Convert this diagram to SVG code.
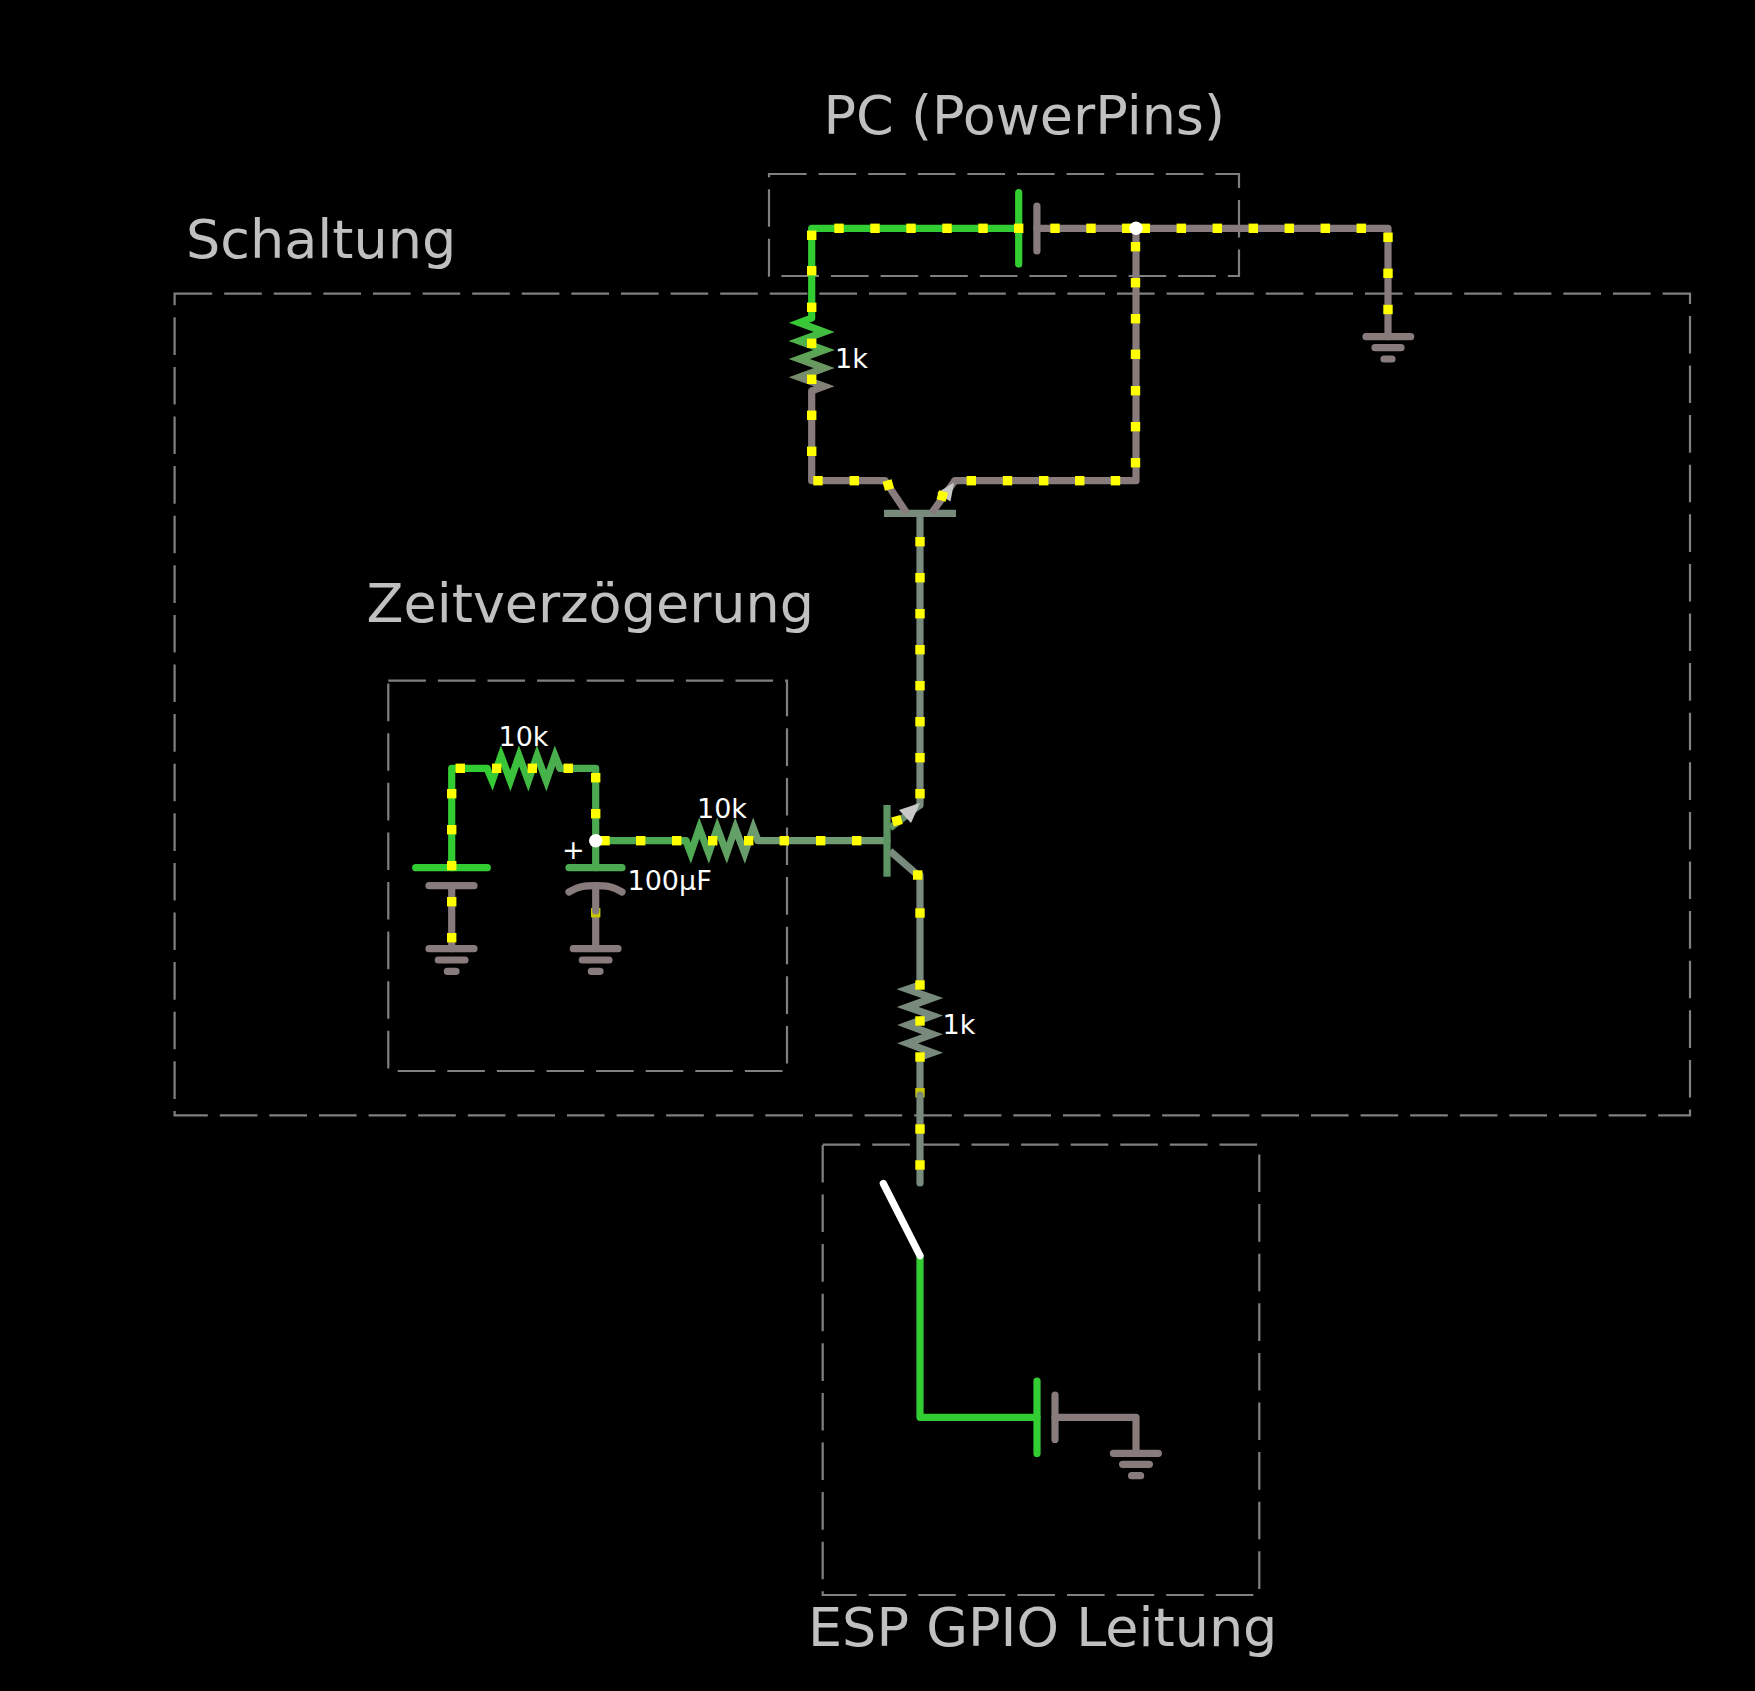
<svg xmlns="http://www.w3.org/2000/svg" width="1755" height="1691" viewBox="0 0 1755 1691">
<style>
.box{fill:none;stroke:#808080;stroke-width:2.2;stroke-dasharray:37.6 12}
.title{font-family:"DejaVu Sans",sans-serif;font-size:54px;fill:#c0c0c0}
.lbl{font-family:"DejaVu Sans",sans-serif;font-size:27px;fill:#fff}
.w{fill:none;stroke-width:7.2;stroke-linecap:round;stroke-linejoin:round}
.z{fill:none;stroke-width:7.2;stroke-linejoin:miter;stroke-miterlimit:10;stroke-linecap:butt}
.b{fill:none;stroke-width:7.2;stroke-linecap:butt}
.g{stroke:#32cd32}.n{stroke:#887b7b}.m{stroke:#4cab50}.t{stroke:#6f9a72}.v{stroke:#778a7b}
.d{fill:#ffff00;width:9.4px;height:9.4px}
.j{fill:#fff}
</style>
<defs>
<linearGradient id="r1" gradientUnits="userSpaceOnUse" x1="0" y1="318" x2="0" y2="391"><stop offset="0" stop-color="#32cd32"/><stop offset="1" stop-color="#887b7b"/></linearGradient>
<linearGradient id="r2" gradientUnits="userSpaceOnUse" x1="487" y1="0" x2="560" y2="0"><stop offset="0" stop-color="#32cd32"/><stop offset="1" stop-color="#4cab50"/></linearGradient>
<linearGradient id="r3" gradientUnits="userSpaceOnUse" x1="686" y1="0" x2="758" y2="0"><stop offset="0" stop-color="#4cab50"/><stop offset="1" stop-color="#6f9a72"/></linearGradient>
<linearGradient id="te" gradientUnits="userSpaceOnUse" x1="890" y1="828" x2="920" y2="805"><stop offset="0" stop-color="#5c9464"/><stop offset="1" stop-color="#778a7b"/></linearGradient>
</defs>
<rect id="background" x="0" y="0" width="1755" height="1691" fill="#000"/>
<g id="frames">
<rect class="box" x="174.6" y="293.7" width="1515.4" height="821.6"/>
<rect class="box" x="388.3" y="680.6" width="398.7" height="390.4"/>
<rect class="box" x="769" y="174" width="470" height="102"/>
<rect class="box" x="822.7" y="1144.7" width="436.6" height="450.3"/>
</g>
<g id="titles">
<text class="title" x="823.5" y="134">PC (PowerPins)</text>
<text class="title" x="186" y="257.6">Schaltung</text>
<text class="title" x="366.5" y="622">Zeitverzögerung</text>
<text class="title" x="808" y="1646">ESP GPIO Leitung</text>
</g>
<g id="connectors">
<path class="w g" d="M811.7 318V228.3H1018.7"/>
<path class="w n" d="M1036.9 228.3H1388V336.7"/>
<path class="w n" d="M1136 228.3V480.7H955"/>
<path class="w n" d="M811.7 391V480.7H885"/>
<path class="w v" d="M920 513.3V805"/>
<path class="w t" d="M887 840.7H758"/>
<path class="w m" d="M595.7 840.7H686"/>
<path class="w g" d="M451.7 867.7V768.3H487"/>
<path class="w m" d="M560 768.3H595.7V867.7"/>
<path class="w n" d="M451.7 885.7V948.7"/>
<path class="b n" d="M595.7 914V948.7"/>
<path class="w v" d="M917.7 875H920V985"/>
<path class="b v" d="M920 1057V1092"/>
<path class="w g" d="M920 1255.7V1417.3H1037"/>
<path class="w n" d="M1055 1417.3H1136V1453.3"/>
</g>
<g id="current-dots">
<rect class="d" x="591" y="908" style="fill:#c8c800"/>
<rect class="d" x="915.3" y="1088" style="fill:#c8c800"/>
</g>
<g id="connectors-over">
<path class="w n" d="M595.7 885.7V911"/>
<path class="w v" d="M920 1095V1183"/>
</g>
<g id="battery-pc">
<path class="w g" d="M1018.7 192.7V263.9"/>
<path class="w n" d="M1036.9 206V251"/>
</g>
<g id="battery-esp">
<path class="w g" d="M1037 1381V1453.4"/>
<path class="w n" d="M1055 1395V1439.4"/>
</g>
<g id="ground-pc">
<path class="w n" d="M1366 336.7H1410.7M1375 347.7H1401M1384 359H1392"/>
</g>
<g id="ground-left">
<path class="w n" d="M429 948.7H474M438.3 960H465M447.3 971.3H456"/>
</g>
<g id="ground-cap">
<path class="w n" d="M573.3 948.7H618M582.3 960H609M591.3 971.3H600"/>
</g>
<g id="ground-esp">
<path class="w n" d="M1113.4 1453.3H1158.4M1122.6 1464.3H1149.4M1131.6 1475.7H1140.6"/>
</g>
<g id="resistor-1k-top">
<polyline class="z" stroke="url(#r1)" points="811.7,318 799.2,322.7 824.2,332 799.2,341 824.2,350 799.2,359 824.2,368 799.2,377.3 824.2,386.3 811.7,391"/>
<text class="lbl" x="835" y="368.3">1k</text>
</g>
<g id="resistor-1k-bottom">
<polyline class="z v" points="920,985 907.5,989.3 932.5,998 907.5,1007 932.5,1015.7 907.5,1025 932.5,1034.3 907.5,1043.3 932.5,1052.7 920,1057"/>
<text class="lbl" x="942.5" y="1034.3">1k</text>
</g>
<g id="resistor-10k-left">
<polyline class="z" stroke="url(#r2)" points="487,768.3 492.3,780.8 501,755.8 510.3,780.8 519,755.8 528.3,780.8 537,755.8 546.3,780.8 555,755.8 560,768.3"/>
<text class="lbl" x="498.5" y="746">10k</text>
</g>
<g id="resistor-10k-right">
<polyline class="z" stroke="url(#r3)" points="686,840.7 690.7,853.2 699.3,828.2 708.7,853.2 717.3,828.2 726.7,853.2 735.3,828.2 744.7,853.2 753.3,828.2 758,840.7"/>
<text class="lbl" x="697" y="817.7">10k</text>
</g>
<g id="capacitor-left">
<path class="w g" d="M415.7 867.7H487.3"/>
<path class="w n" d="M429 885.7H474"/>
</g>
<g id="capacitor-100uF">
<path class="w m" d="M569 867.7H622"/>
<path class="w n" d="M569 892C580 886 585 885.7 595.7 885.7S611 886 622 892"/>
<text class="lbl" x="627.5" y="890">100μF</text>
<text class="lbl" x="562" y="859">+</text>
</g>
<g id="transistor-top">
<path class="b v" d="M884 513.3H956"/>
<path class="b n" d="M885 480.7L906.7 513M955 480.7L931.7 513"/>
<polygon fill="#c8c8c8" points="937,493 954,482.5 950.5,501.5"/>
</g>
<g id="transistor-bottom">
<path class="b" stroke="#5c9464" d="M887 805V876.7"/>
<path class="b" stroke="url(#te)" d="M890 828L920 805"/>
<path class="b v" d="M890 851L917.7 875"/>
<polygon fill="#c8c8c8" points="899,810 920,803 911,823"/>
</g>
<g id="switch">
<path class="w" stroke="#fff" d="M883.3 1183.5L920 1255.7"/>
</g>
<g id="current-dots-top">
<rect class="d" x="834.3" y="223.6"/><rect class="d" x="870.3" y="223.6"/><rect class="d" x="906.3" y="223.6"/><rect class="d" x="942.3" y="223.6"/><rect class="d" x="978.3" y="223.6"/><rect class="d" x="1014" y="223.6"/><rect class="d" x="1050.3" y="223.6"/><rect class="d" x="1086.3" y="223.6"/><rect class="d" x="1122" y="223.6"/><rect class="d" x="1140.6" y="223.6"/><rect class="d" x="1176.6" y="223.6"/><rect class="d" x="1212.6" y="223.6"/><rect class="d" x="1248.6" y="223.6"/><rect class="d" x="1284.6" y="223.6"/><rect class="d" x="1320.6" y="223.6"/><rect class="d" x="1356.6" y="223.6"/>
<rect class="d" x="1383.3" y="232.6"/><rect class="d" x="1383.3" y="268.6"/><rect class="d" x="1383.3" y="304.8"/>
<rect class="d" x="807" y="230.6"/><rect class="d" x="807" y="266"/><rect class="d" x="807" y="302.6"/><rect class="d" x="807" y="338.6"/><rect class="d" x="807" y="374.6"/><rect class="d" x="807" y="410.6"/><rect class="d" x="807" y="446.6"/>
<rect class="d" x="813.3" y="476"/><rect class="d" x="849.6" y="476"/>
<rect class="d" x="966.6" y="476"/><rect class="d" x="1002.8" y="476"/><rect class="d" x="1039" y="476"/><rect class="d" x="1075" y="476"/><rect class="d" x="1110.8" y="476"/>
<rect class="d" x="1130.8" y="242"/><rect class="d" x="1130.8" y="278"/><rect class="d" x="1130.8" y="314"/><rect class="d" x="1130.8" y="349.6"/><rect class="d" x="1130.8" y="386"/><rect class="d" x="1130.8" y="422"/><rect class="d" x="1130.8" y="458"/>
<rect class="d" x="883.6" y="480.3" transform="rotate(-15 888.3 485)"/><rect class="d" x="937.6" y="491.3" transform="rotate(15 942.3 496)"/>
<rect class="d" x="915.3" y="537"/><rect class="d" x="915.3" y="573"/><rect class="d" x="915.3" y="609"/><rect class="d" x="915.3" y="645"/><rect class="d" x="915.3" y="681"/><rect class="d" x="915.3" y="717"/><rect class="d" x="915.3" y="753"/><rect class="d" x="915.3" y="789"/>
<rect class="d" x="892.3" y="816" transform="rotate(-15 897 820.7)"/>
<rect class="d" x="779.6" y="836"/><rect class="d" x="816" y="836"/><rect class="d" x="852" y="836"/>
<rect class="d" x="600.3" y="836"/><rect class="d" x="636" y="836"/><rect class="d" x="672" y="836"/><rect class="d" x="708" y="836"/><rect class="d" x="744" y="836"/>
<rect class="d" x="455.6" y="763.6"/><rect class="d" x="492" y="763.6"/><rect class="d" x="527.6" y="763.6"/><rect class="d" x="563.6" y="763.6"/>
<rect class="d" x="591" y="773"/><rect class="d" x="591" y="809"/>
<rect class="d" x="447" y="789"/><rect class="d" x="447" y="825"/><rect class="d" x="447" y="861"/><rect class="d" x="447" y="897"/><rect class="d" x="447" y="933"/>
<rect class="d" x="913" y="870.3"/><rect class="d" x="915.3" y="908.3"/><rect class="d" x="915.3" y="980.3"/><rect class="d" x="915.3" y="1016.3"/><rect class="d" x="915.3" y="1052.3"/><rect class="d" x="915.3" y="1124.3"/><rect class="d" x="915.3" y="1160.3"/>
</g>
<g id="junctions">
<circle class="j" cx="1136" cy="228.3" r="6.7"/>
<circle class="j" cx="595.7" cy="840.7" r="6.7"/>
</g>
</svg>
